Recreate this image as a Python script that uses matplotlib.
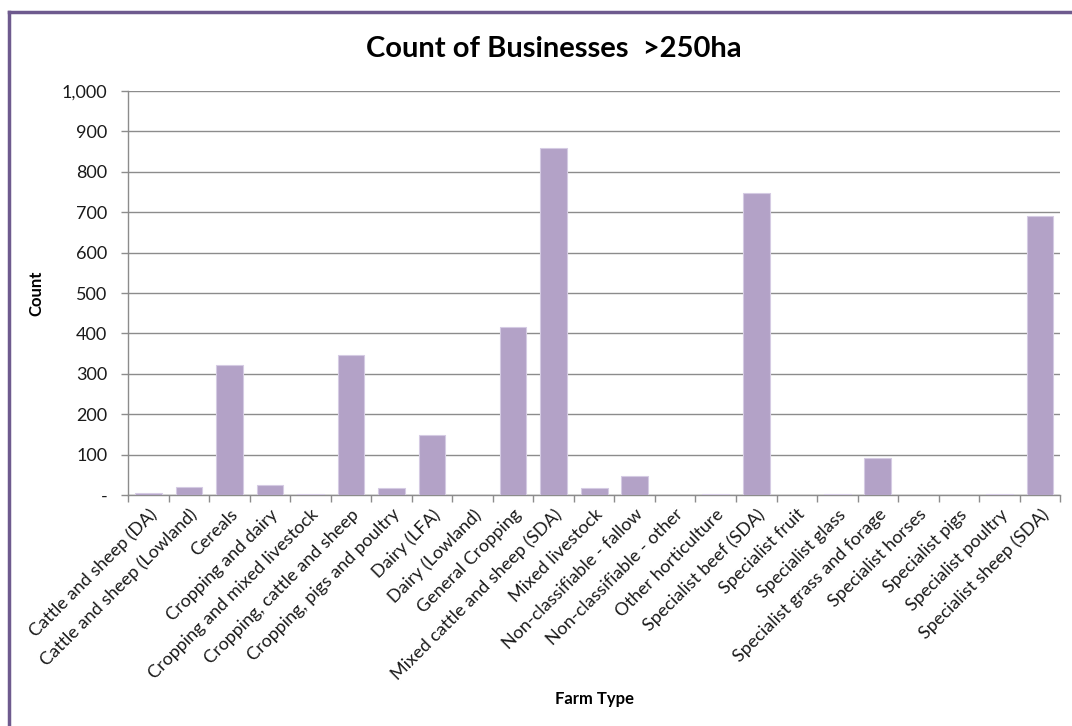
import matplotlib
matplotlib.use("Agg")
import matplotlib.pyplot as plt
from matplotlib.lines import Line2D
from matplotlib.ticker import FuncFormatter, FixedLocator
import numpy as np

categories = [
    "Cattle and sheep (DA)", "Cattle and sheep (Lowland)", "Cereals",
    "Cropping and dairy", "Cropping and mixed livestock",
    "Cropping, cattle and sheep", "Cropping, pigs and poultry",
    "Dairy (LFA)", "Dairy (Lowland)", "General Cropping",
    "Mixed cattle and sheep (SDA)", "Mixed livestock",
    "Non-classifiable - fallow", "Non-classifiable - other",
    "Other horticulture", "Specialist beef (SDA)", "Specialist fruit",
    "Specialist glass", "Specialist grass and forage", "Specialist horses",
    "Specialist pigs", "Specialist poultry", "Specialist sheep (SDA)",
]
counts = [5, 20, 322, 26, 2, 347, 17, 149, 0, 416, 859, 17, 48, 0, 2,
          748, 0, 4, 92, 0, 0, 4, 690]
y_ticks = [0, 100, 200, 300, 400, 500, 600, 700, 800, 900, 1000]

plt.rcParams['font.family'] = ['Lato', 'DejaVu Sans']

fig = plt.figure(figsize=(10.72, 7.26), dpi=100)
ax = fig.add_axes([0.1195, 0.318, 0.8695, 0.5567])

x = np.arange(len(categories))
ax.bar(x, counts, width=0.66, color="#B3A2C7", edgecolor="#D5CBE3", linewidth=0.8, zorder=3)

ax.set_xlim(-0.5, len(categories) - 0.5)
ax.set_ylim(0, 1000)
ax.yaxis.set_major_locator(FixedLocator(y_ticks))
ax.yaxis.set_major_formatter(FuncFormatter(lambda v, p: "-" if v == 0 else f"{int(v):,}"))
ax.grid(axis='y', color="#8C8C8C", linewidth=1.0, zorder=0)

ax.set_xticks(x)
ax.set_xticklabels(categories, rotation=45, ha='right', va='top', rotation_mode='anchor', fontsize=13, color="#1a1a1a")
ax.set_xticks(np.arange(-0.5, len(categories) + 0.5, 1), minor=True)
ax.tick_params(axis='x', which='major', length=0, pad=8)
ax.tick_params(axis='x', which='minor', length=5, color="#8C8C8C", width=1)
ax.tick_params(axis='y', length=5, color="#8C8C8C", width=1, labelsize=13, labelcolor="#1a1a1a", pad=10)

for s in ['top', 'right']:
    ax.spines[s].set_visible(False)
for s in ['left', 'bottom']:
    ax.spines[s].set_color("#8C8C8C")
    ax.spines[s].set_linewidth(1.0)

ax.set_ylabel("Count", fontsize=12, fontweight='bold')
ax.yaxis.set_label_coords(-0.09, 0.5)
ax.set_xlabel("Farm Type", fontsize=12, fontweight='bold')
ax.xaxis.set_label_coords(0.5, -0.485)

fig.text(0.517, 0.932, "Count of Businesses  >250ha", ha='center', va='center', fontsize=21, fontweight='bold')

# outer frame lines
fig.add_artist(Line2D([0.0085, 1.0], [1 - 11.5/726, 1 - 11.5/726], transform=fig.transFigure, color="#6E5A8E", linewidth=2.5))
fig.add_artist(Line2D([9/1072, 9/1072], [0, 1 - 11.5/726], transform=fig.transFigure, color="#6E5A8E", linewidth=2.5))

fig.savefig("out.png", dpi=100)
